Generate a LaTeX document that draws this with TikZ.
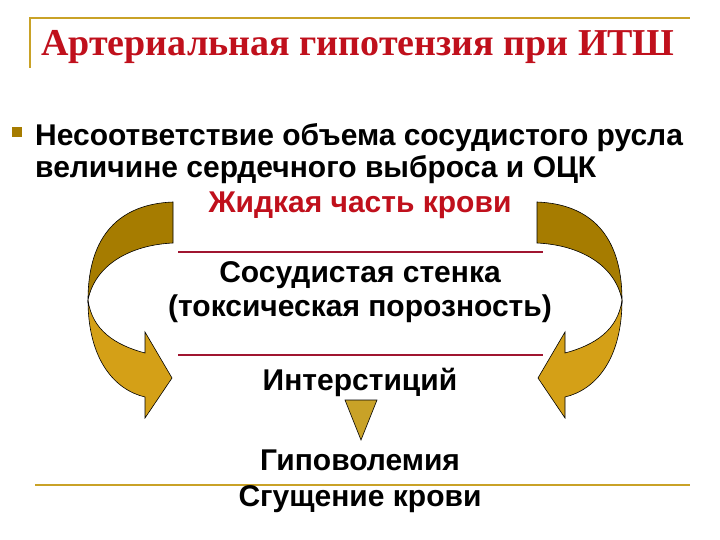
\documentclass[tikz,border=0pt]{standalone}
\usepackage{fontspec}
\setmainfont{Liberation Sans}
\newfontfamily\titlefont{Liberation Serif}
\definecolor{gold}{HTML}{C9A227}
\definecolor{darkgold}{HTML}{A67C00}
\definecolor{lightgold}{HTML}{D4A017}
\definecolor{redtxt}{HTML}{C0101C}
\definecolor{redline}{HTML}{A01530}
\begin{document}
\begin{tikzpicture}[x=1pt,y=-1pt,
  body/.style={font=\fontsize{30}{36}\selectfont\bfseries,inner sep=0pt},
  arr/.style={draw=black,line width=0.6pt}]
\useasboundingbox[fill=white] (0,0) rectangle (720,540);
\draw[gold,line width=1.2pt] (30,68) -- (30,18) -- (690,18);
\draw[gold,line width=1.2pt] (35,485) -- (690,485);
\node[anchor=base,text=redtxt,inner sep=0pt,font=\titlefont\fontsize{38}{44}\selectfont\bfseries] (title) at (358,56) {Артериальная гипотензия при ИТШ};
\node[fill=darkgold,minimum size=10pt,inner sep=0pt] (bul) at (17,132) {};
\node[body,anchor=base west] (l1) at (35,146) {Несоответствие объема сосудистого русла};
\node[body,anchor=base west] (l2) at (35,178) {величине сердечного выброса и ОЦК};
\node[body,anchor=base,text=redtxt] (liq) at (360,213) {Жидкая часть крови};
\draw[redline,line width=2pt] (178,252) -- (543,252);
\node[body,anchor=base] (wall) at (360,282) {Сосудистая стенка};
\node[body,anchor=base] (tox) at (360,316) {(токсическая порозность)};
\draw[redline,line width=2pt] (178,355) -- (543,355);
\node[body,anchor=base] (int) at (360,390) {Интерстиций};
\node[body,anchor=base] (hyp) at (360,470) {Гиповолемия};
\node[body,anchor=base] (thick) at (360,506) {Сгущение крови};
\draw[arr,fill=gold] (345,400) -- (377,400) -- (361,440) -- cycle;
% left arrow
\draw[arr,fill=darkgold] (173,202) .. controls (120,204) and (88,235) .. (88,300)
  .. controls (95,265) and (130,245) .. (173,243) -- cycle;
\draw[arr,fill=lightgold] (88,300) .. controls (88,360) and (115,390) .. (145,397)
  -- (145,418) -- (172,378) -- (145,332) -- (145,353)
  .. controls (115,345) and (92,330) .. (88,300) -- cycle;
% right arrow
\begin{scope}[xshift=710pt,x=-1pt]
\draw[arr,fill=darkgold] (173,202) .. controls (120,204) and (88,235) .. (88,300)
  .. controls (95,265) and (130,245) .. (173,243) -- cycle;
\draw[arr,fill=lightgold] (88,300) .. controls (88,360) and (115,390) .. (145,397)
  -- (145,418) -- (172,378) -- (145,332) -- (145,353)
  .. controls (115,345) and (92,330) .. (88,300) -- cycle;
\end{scope}
\end{tikzpicture}
\end{document}
